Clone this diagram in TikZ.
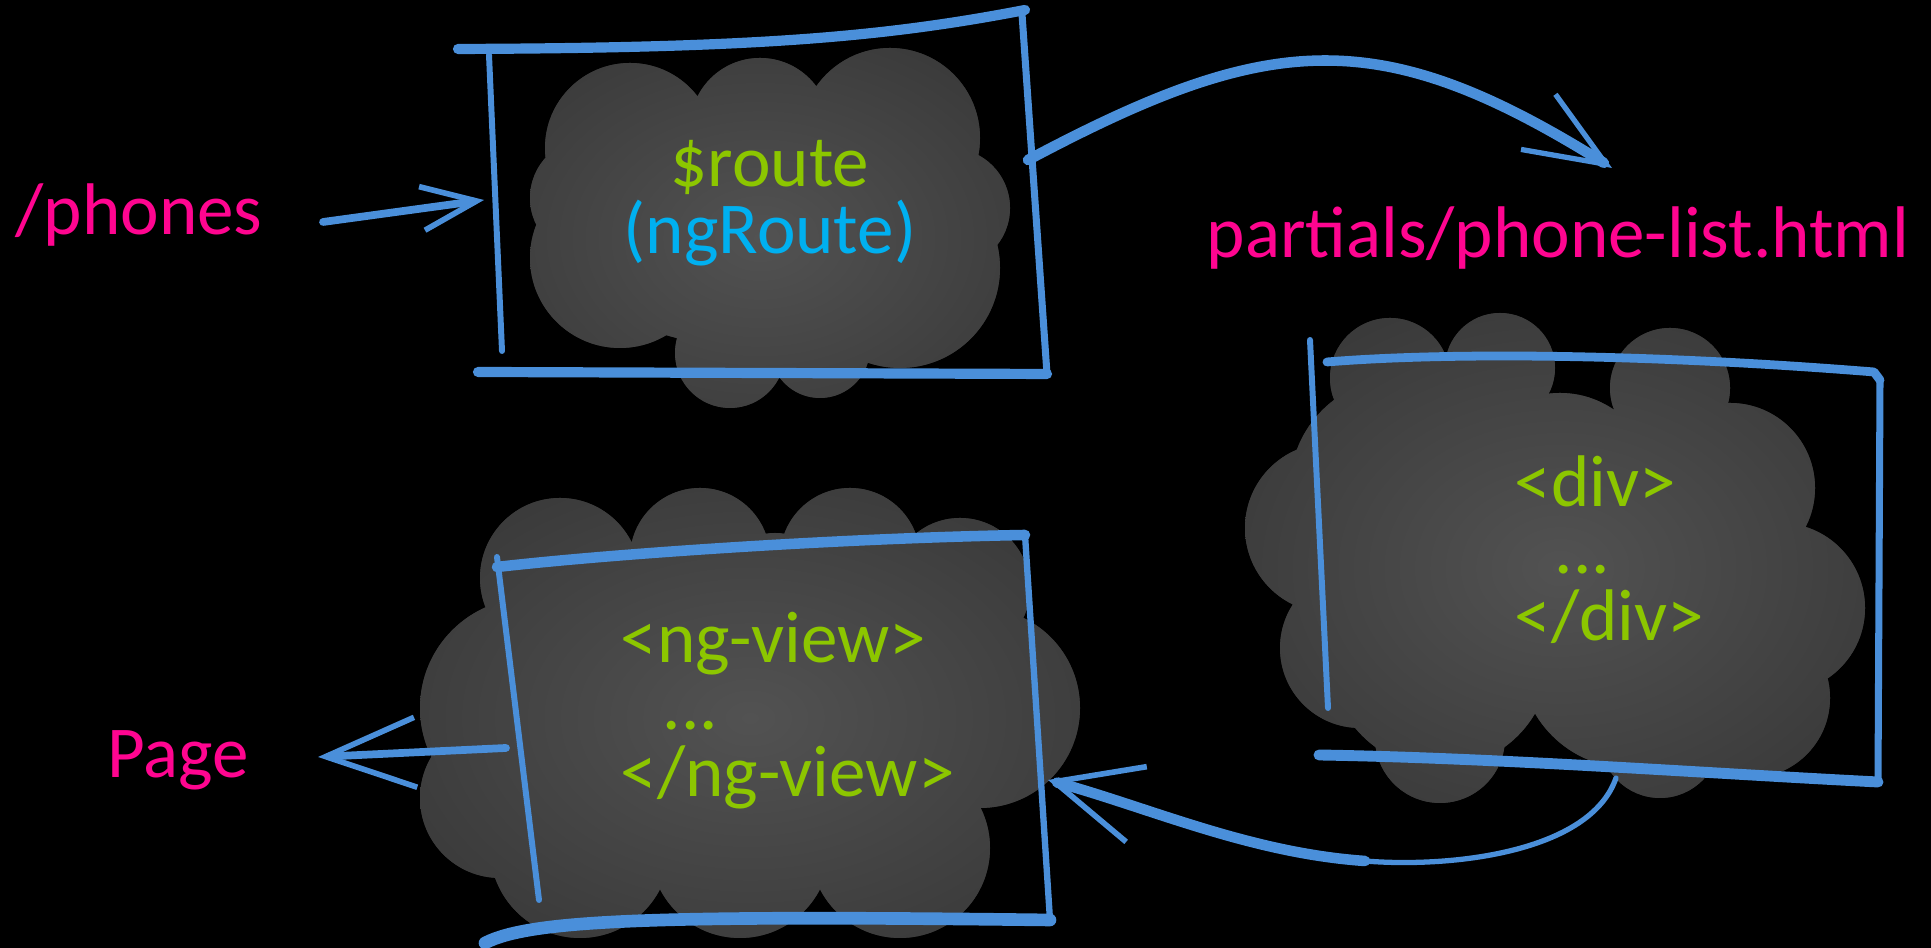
\documentclass[tikz,border=0pt]{standalone}
\usepackage{fontspec}
\setmainfont{Carlito}
\usetikzlibrary{arrows.meta}
\definecolor{penblue}{HTML}{4A8FDA}
\definecolor{hotpink}{HTML}{FF0590}
\definecolor{lime}{HTML}{8CC600}
\definecolor{skycyan}{HTML}{00B0F0}
\definecolor{cloudgray}{HTML}{303030}
\definecolor{glowgray}{HTML}{525252}
\newcommand\routecloud{(7.6,7.1) ellipse (2.0 and 1.1)
  (6.3,8.0) circle (0.85) (7.6,8.2) circle (0.7) (8.9,8.1) circle (0.9)
  (6.2,6.9) circle (0.9) (7.5,6.9) circle (1.0) (9.0,6.8) circle (1.0) (7.3,5.95) circle (0.55)
  (8.2,6.0) circle (0.5) (5.9,7.5) circle (0.6) (9.5,7.4) circle (0.6)}
\newcommand\divcloud{(15.6,3.8) ellipse (2.3 and 1.4)
  (13.9,5.7) circle (0.6) (15.0,5.8) circle (0.55) (16.7,5.6) circle (0.6)
  (14.0,4.6) circle (1.1) (15.6,4.6) circle (0.95) (17.3,4.6) circle (0.85) (13.3,4.2) circle (0.85)
  (14.4,2.9) circle (1.1) (16.3,2.9) circle (1.1) (17.8,3.4) circle (0.85) (17.5,2.5) circle (0.8)
  (14.4,2.1) circle (0.65) (16.6,2.1) circle (0.6) (13.6,3.0) circle (0.8) (16.5,4.1) circle (0.6)
  (15.2,5.1) circle (0.5)}
\newcommand\viewcloud{(7.5,2.4) ellipse (2.6 and 1.4)
  (5.6,3.7) circle (0.8) (7.0,3.9) circle (0.7) (8.5,3.9) circle (0.7) (7.75,3.6) circle (0.55)
  (9.6,3.6) circle (0.7) (5.3,2.4) circle (1.1) (7.0,2.5) circle (1.2) (8.7,2.5) circle (1.2)
  (9.8,2.4) circle (1.0) (5.8,1.0) circle (0.9) (7.4,1.0) circle (0.9) (9.0,1.0) circle (0.9)
  (5.0,1.5) circle (0.8)}

\begin{document}
\begin{tikzpicture}[line cap=round, line join=round,
  ink/.style={draw=penblue, line width=#1},
  txt/.style={font=\fontsize{20.8pt}{19.07pt}\selectfont, inner sep=0pt},
  cloud/.style={fill=cloudgray},
  glow/.style={inner color=glowgray, outer color=cloudgray}]
\fill (0,0) rectangle (19.31,9.48);
\useasboundingbox (0,0) rectangle (19.31,9.48);

% clouds behind the three boxes
\fill[cloud] \routecloud;
\fill[cloud] \divcloud;
\fill[cloud] \viewcloud;
\begin{scope}
  \clip \routecloud;
  \shade[glow] (7.6,7.1) ellipse (4.4cm and 3.2cm);
\end{scope}
\begin{scope}
  \clip \divcloud;
  \shade[glow] (15.6,3.8) ellipse (5.2cm and 4.0cm);
\end{scope}
\begin{scope}
  \clip \viewcloud;
  \shade[glow] (7.5,2.3) ellipse (5.6cm and 3.8cm);
\end{scope}

% $route box
\coordinate (R1) at (4.58,8.99);
\coordinate (R2) at (10.25,9.38);
\coordinate (R3) at (10.47,5.74);
\coordinate (R4) at (4.78,5.76);
\draw[ink=2.9pt] (R1) .. controls (7.5,9.0) and (8.8,9.1) .. (R2);
\draw[ink=1.7pt] (4.89,8.93) -- (5.02,5.97);
\draw[ink=2pt] (10.22,9.34) -- (R3);
\draw[ink=2.9pt] (R4) -- (R3);

% partial box
\coordinate (D1) at (13.27,5.86);
\coordinate (D2) at (18.74,5.76);
\coordinate (D3) at (18.78,1.66);
\coordinate (D4) at (13.19,1.93);
\draw[ink=2.5pt] (D1) .. controls (14.5,5.96) and (16.5,5.94) .. (D2) -- (18.80,5.68);
\draw[ink=1.7pt] (13.10,6.08) -- (13.28,2.40);
\draw[ink=2pt] (18.80,5.68) -- (D3);
\draw[ink=3.1pt] (D4) .. controls (15.0,1.9) and (17.0,1.75) .. (D3);

% ng-view box
\coordinate (V1) at (4.97,3.81);
\coordinate (V2) at (10.25,4.13);
\coordinate (V3) at (10.50,0.28);
\coordinate (V4) at (4.85,0.05);
\draw[ink=3pt] (V1) .. controls (6.2,3.95) and (8.5,4.1) .. (V2);
\draw[ink=1.7pt] (4.97,3.91) -- (5.39,0.48);
\draw[ink=1.8pt] (V2) -- (V3);
\draw[ink=3.6pt] (V4) .. controls (5.3,0.28) and (6.5,0.33) .. (V3);

% labels
\node[txt, text=hotpink, anchor=base west] (phones) at (0.15,7.13) {/phones};
\node[txt, anchor=base, align=center] (route) at (7.70,6.94)
  {\textcolor{lime}{\$route}\\\textcolor{skycyan}{(ngRoute)}};
\node[txt, text=hotpink, anchor=base west] (partial) at (12.06,6.90) {partials/phone-list.html};
\node[txt, text=lime, anchor=base west, align=left] (div) at (15.14,3.07)
  {<div>\\\hspace*{4mm}...\\</div>};
\node[txt, text=lime, anchor=base west, align=left] (ngview) at (6.20,1.51)
  {<ng-view>\\\hspace*{4.2mm}...\\</ng-view>};
\node[txt, text=hotpink, anchor=base west] (page) at (1.07,1.70) {Page};

% arrows
\coordinate (P1) at (3.23,7.26);
\coordinate (P2) at (4.84,7.48);
\draw[ink=2.2pt, -{Straight Barb[length=5.5mm, width=4.4mm, line width=1.6pt]}] (P1) -- (P2);
\coordinate (A1) at (10.28,7.88);
\coordinate (A2) at (16.12,7.80);
\draw[ink=3pt, -{Straight Barb[length=8mm, width=6.5mm, line width=1.5pt]}]
  (A1) to[out=28, in=148, looseness=1.2] (A2);
\coordinate (B1) at (16.16,1.70);
\coordinate (B2) at (13.65,0.87);
\coordinate (B3) at (10.48,1.68);
\draw[ink=1.5pt] (B1) .. controls (15.9,0.95) and (14.5,0.8) .. (B2);
\draw[ink=3pt, -{Straight Barb[length=8.5mm, width=7.8mm, line width=1.6pt]}]
  (B2) .. controls (12.5,0.95) and (11.5,1.4) .. (B3);
\coordinate (G1) at (5.06,2.00);
\coordinate (G2) at (3.18,1.91);
\draw[ink=2.2pt, -{Straight Barb[length=9mm, width=7mm, line width=1.6pt]}] (G1) -- (G2);
\end{tikzpicture}
\end{document}
